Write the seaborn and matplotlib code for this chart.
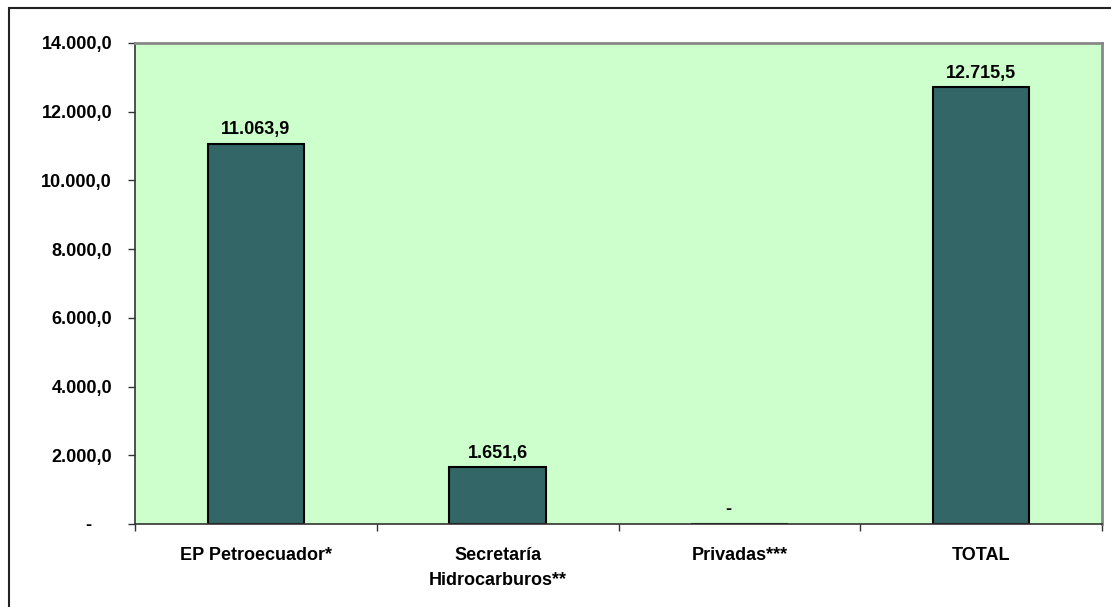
import matplotlib
matplotlib.use("Agg")
import matplotlib.pyplot as plt
import seaborn as sns
import pandas as pd
from matplotlib.patches import Rectangle
from matplotlib.ticker import FixedLocator

categories = ["EP Petroecuador*", "Secretaría\nHidrocarburos**", "Privadas***", "TOTAL"]
values = [11063.9, 1651.6, 0.0, 12715.5]
value_labels = ["11.063,9", "1.651,6", "-    ", "12.715,5"]
yticks = [0, 2000, 4000, 6000, 8000, 10000, 12000, 14000]
ytick_labels = ["-    ", "2.000,0", "4.000,0", "6.000,0", "8.000,0", "10.000,0", "12.000,0", "14.000,0"]

sns.set_theme(style="white")
plt.rcParams["font.family"] = ["Liberation Sans", "DejaVu Sans"]
plt.rcParams["font.weight"] = "bold"

FS = 13
W, H = 1111, 607
fig = plt.figure(figsize=(W / 100, H / 100), dpi=100)
fig.patch.set_facecolor("white")
ax = fig.add_axes([135 / W, 1 - 524 / H, (1102 - 135) / W, (524 - 43) / H])

df = pd.DataFrame({"cat": categories, "val": values})
sns.barplot(data=df, x="cat", y="val", ax=ax, color="#336666", saturation=1,
            width=0.4, edgecolor="black", linewidth=1.5)

ax.set_facecolor("#CCFFCC")
ax.set_xlim(-0.5, len(categories) - 0.5)
ax.set_ylim(0, 14000)
ax.set_xlabel("")
ax.set_ylabel("")

ax.set_yticks(yticks)
ax.set_yticklabels(ytick_labels, fontsize=FS, fontweight="bold", color="black")
ax.set_xticks(range(len(categories)))
ax.set_xticklabels(categories, fontsize=FS, fontweight="bold", color="black", linespacing=1.6)
ax.xaxis.set_minor_locator(FixedLocator([i - 0.5 for i in range(len(categories) + 1)]))
ax.tick_params(axis="x", which="major", length=0, pad=16.5)
ax.tick_params(axis="x", which="minor", length=5, width=1, color="#333333", direction="out", bottom=True)
ax.tick_params(axis="y", which="major", length=5, width=1, color="#333333", direction="out", left=True, pad=11.5)

for side in ["left", "bottom"]:
    ax.spines[side].set_color("#333333")
    ax.spines[side].set_linewidth(1.2)
for side in ["top", "right"]:
    ax.spines[side].set_visible(True)
    ax.spines[side].set_color("#888888")
    ax.spines[side].set_linewidth(2)

for i, (v, lab) in enumerate(zip(values, value_labels)):
    ax.annotate(lab, (i, v), xytext=(0, 4), textcoords="offset points",
                ha="center", va="bottom", fontsize=FS, fontweight="bold", color="black")

fig.patches.append(Rectangle((9 / W, -0.1), 1.2, 1 - 8 / H + 0.1, transform=fig.transFigure,
                             fill=False, edgecolor="#222222", linewidth=1.5))

fig.savefig("out.png", dpi=100)
